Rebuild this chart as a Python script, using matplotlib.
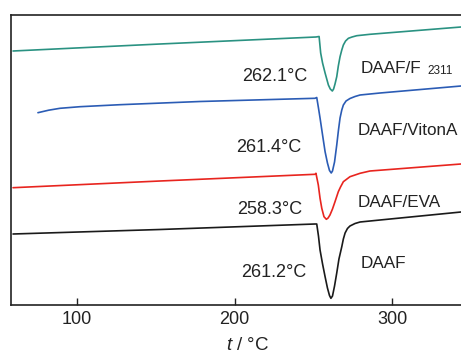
import matplotlib
matplotlib.use("Agg")
import matplotlib.pyplot as plt

plt.rcParams['font.family'] = ['Liberation Sans', 'DejaVu Sans']
plt.rcParams['mathtext.fontset'] = 'custom'
plt.rcParams['mathtext.it'] = 'Liberation Sans:italic'
plt.rcParams['mathtext.rm'] = 'Liberation Sans'

# DSC traces (temperature in degC, heat-flow signal in arbitrary offset units)
t_f2311 = [59.4, 152.7, 251.7, 253.7, 254.7, 255.9, 257.5, 259.6, 260.8, 262.1,
           262.9, 263.8, 264.9, 265.9, 267.0, 268.1, 269.1, 270.5, 272.3, 274.6, 277.6, 286.0, 343.8]
q_f2311 = [254, 261, 268, 268.5, 252, 242, 232, 220, 216, 214,
           216, 221, 228.3, 239, 248.3, 255, 260, 264, 266.7, 268, 269.3, 270.7, 278]

t_viton = [75.2, 82.0, 89.2, 101.9, 127.3, 178.1, 251.1, 252.2, 253.3, 254.3, 255.9, 257.5,
           259.0, 260.3, 261.4, 262.2, 263.5, 264.9, 266.0, 267.0, 268.1, 269.1, 270.8,
           273.3, 276.5, 279.7, 292.4, 343.8]
q_viton = [192.3, 194.8, 196.7, 198.3, 200.3, 203.5, 206.7, 207.5, 197, 187, 170, 153.3,
           142, 134.5, 132, 134, 143, 160, 175, 187, 195, 200, 204,
           206.5, 208.5, 210, 212, 219]

t_eva = [59.4, 152.7, 251.1, 251.7, 253.2, 254.3, 255.4, 256.8, 258.3, 259.4, 260.6,
         262.2, 263.8, 265.9, 267.3, 269.1, 273.3, 279.7, 286.0, 343.8]
q_eva = [117.3, 124, 130.7, 131.7, 120, 106.7, 96.7, 88.3, 85.7, 87, 90,
         96, 103.3, 113.3, 118, 123.3, 128.3, 131.7, 134, 141]

t_daaf = [59.4, 152.7, 251.1, 252.2, 253.3, 254.3, 255.9, 257.5, 259.0, 260.3, 261.2,
          262.2, 263.5, 264.9, 266.3, 268.1, 269.1, 270.2, 271.7, 273.3, 276.5, 279.7, 292.4, 343.8]
q_daaf = [71, 75.5, 81, 81, 69, 55, 41, 28.3, 17, 9.5, 6.7,
          9, 19, 32, 46, 58.3, 66, 72, 76.5, 79, 81.5, 83, 85, 93]

peak_labels = ["262.1°C", "261.4°C", "258.3°C", "261.2°C"]
series_names = ["DAAF/F", "DAAF/VitonA", "DAAF/EVA", "DAAF"]
colors = ["#2a9282", "#2b5cb5", "#e8251f", "#1a1a1a"]
xticks = [100, 200, 300]

W, H = 461, 354
fig = plt.figure(figsize=(W / 100, H / 100), dpi=100)
ax = fig.add_axes([11 / W, 1 - 305 / H, (470 - 11) / W, 290 / H])
ax.set_xlim(58.1, 349.5)
ax.set_ylim(0, 290)

for t, q, c in zip([t_f2311, t_viton, t_eva, t_daaf],
                   [q_f2311, q_viton, q_eva, q_daaf], colors):
    ax.plot(t, q, color=c, lw=1.2, solid_joinstyle='round', solid_capstyle='round')

# peak temperature labels (right-aligned, baseline)
peak_pos = [(246.0, 224.0), (242.2, 152.7), (243.3, 90.7), (245.4, 27.7)]
for lab, (x, y) in zip(peak_labels, peak_pos):
    ax.text(x, y, lab, ha='right', va='baseline', fontsize=13, color='#222222')

name_pos = [(280.3, 232.3), (278.4, 170.0), (278.2, 97.7), (280.3, 36.7)]
for lab, (x, y) in zip(series_names, name_pos):
    ax.text(x, y, lab, ha='left', va='baseline', fontsize=12.3, color='#222222')
ax.text(322.7, 231.0, "2311", ha='left', va='baseline', fontsize=8.5, color='#222222')

ax.set_xticks(xticks)
ax.set_yticks([])
ax.tick_params(axis='x', direction='in', length=5, width=1.0, labelsize=13, pad=4,
               colors='#222222')
for s in ['left', 'top', 'bottom', 'right']:
    ax.spines[s].set_linewidth(1.2)
    ax.spines[s].set_color('#222222')

fig.text(248 / W, (H - 350) / H, r"$t$ / °C", ha='center', va='baseline',
         fontsize=13.5, color='#222222')

fig.savefig("out.png", dpi=100)
